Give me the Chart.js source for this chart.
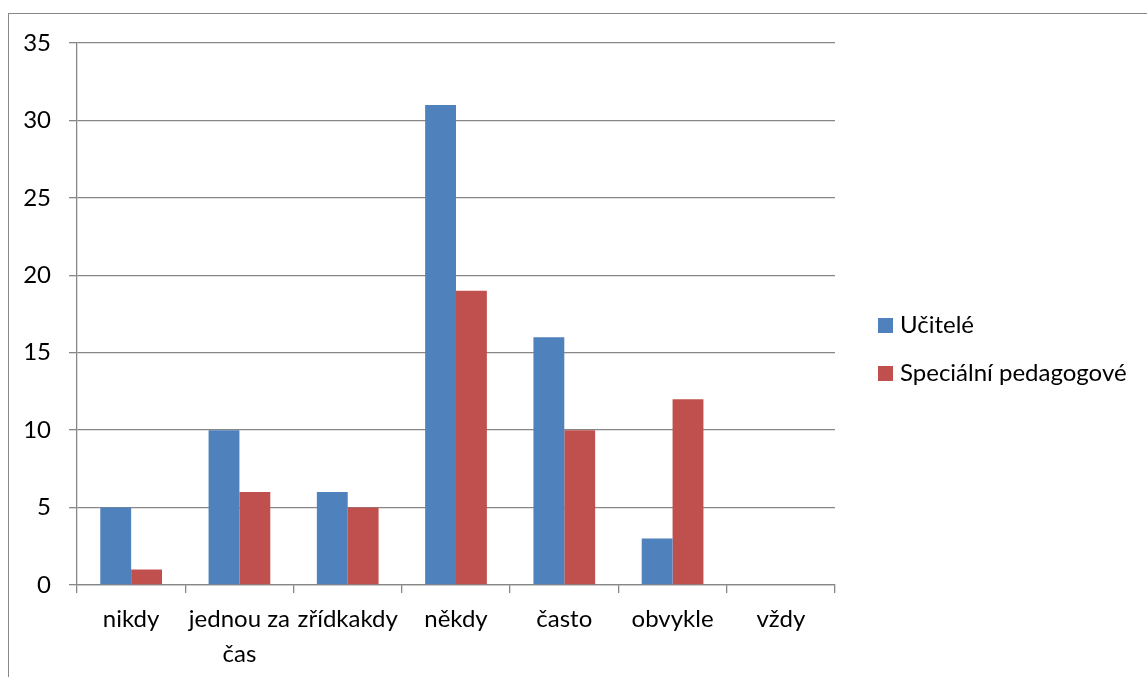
<!DOCTYPE html>
<html>
<head>
<meta charset="utf-8">
<script src="https://cdn.jsdelivr.net/npm/chart.js@4/dist/chart.umd.min.js"></script>
<style>
  html, body { margin: 0; padding: 0; background: #fff; }
  #wrap { position: relative; width: 1147px; height: 677px; overflow: hidden; }
  #frame { position: absolute; left: 8px; top: 13px; width: 1200px; height: 700px;
           border-top: 1px solid #888; border-left: 1px solid #888; }
  canvas { position: absolute; left: 0; top: 0; }
</style>
</head>
<body>
<div id="wrap">
  <div id="frame"></div>
  <canvas id="c" width="1147" height="677"></canvas>
</div>
<script>
// Odpovědi na otázku podle frekvence
const categories = ['nikdy', ['jednou za', 'čas'], 'zřídkakdy', 'někdy', 'často', 'obvykle', 'vždy'];
const ucitele = [5, 10, 6, 31, 16, 3, 0];
const specialniPedagogove = [1, 6, 5, 19, 10, 12, 0];
const seriesNames = ['Učitelé', 'Speciální pedagogové'];
const seriesColors = ['#4F81BD', '#C0504D'];

const FONT = "Lato, 'Open Sans', sans-serif";
const FONT_SIZE = 24;
const AXIS = '#878787';

// Legenda vpravo: čtverec barvy a popisek každé řady
const sideLegend = {
  id: 'sideLegend',
  afterDraw(chart) {
    const ctx = chart.ctx;
    ctx.save();
    ctx.font = FONT_SIZE + 'px ' + FONT;
    ctx.textBaseline = 'middle';
    ctx.textAlign = 'left';
    chart.data.datasets.forEach((ds, i) => {
      const y = 325.5 + i * 48;
      ctx.fillStyle = ds.backgroundColor;
      ctx.fillRect(878, y - 7.5, 15, 15);
      ctx.fillStyle = '#000';
      ctx.fillText(ds.label, 900, y);
    });
    ctx.restore();
  }
};

new Chart(document.getElementById('c'), {
  type: 'bar',
  data: {
    labels: categories,
    datasets: [
      { label: seriesNames[0], data: ucitele, backgroundColor: seriesColors[0] },
      { label: seriesNames[1], data: specialniPedagogove, backgroundColor: seriesColors[1] }
    ]
  },
  options: {
    responsive: false,
    animation: false,
    devicePixelRatio: 1,
    layout: { padding: { left: 0, top: 43, right: 312, bottom: 0 } },
    plugins: { legend: { display: false }, tooltip: { enabled: false } },
    datasets: { bar: { categoryPercentage: 0.57, barPercentage: 1.0 } },
    scales: {
      x: {
        offset: true,
        grid: { offset: true, drawOnChartArea: false, drawTicks: true, tickLength: 8, color: AXIS, lineWidth: 1.3 },
        border: { display: true, color: AXIS, width: 1.3 },
        ticks: { color: '#000', font: { family: FONT, size: FONT_SIZE, lineHeight: 1.45 }, padding: 9, maxRotation: 0, autoSkip: false },
        afterFit(scale) { scale.height = 92; }
      },
      y: {
        min: 0, max: 35,
        grid: { color: AXIS, lineWidth: 1.3, tickLength: 8 },
        border: { display: true, color: AXIS, width: 1.3 },
        ticks: { stepSize: 5, color: '#000', font: { family: FONT, size: FONT_SIZE }, padding: 18 },
        afterFit(scale) { scale.width = 77; }
      }
    }
  },
  plugins: [sideLegend]
});
</script>
</body>
</html>
